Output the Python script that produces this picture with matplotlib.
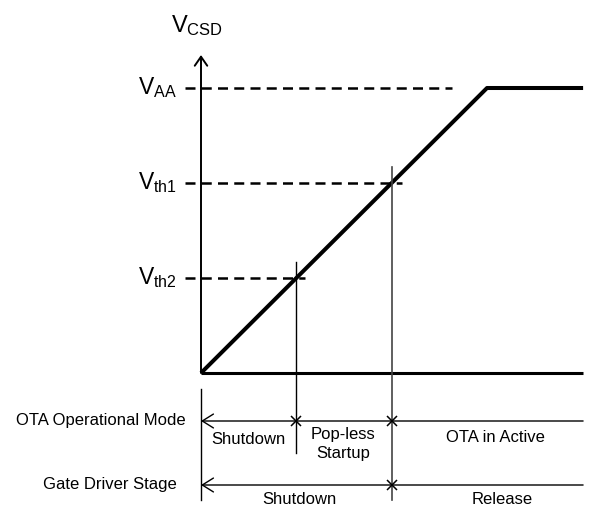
import numpy as np
import matplotlib.pyplot as plt

plt.rcParams['font.family'] = ['Liberation Sans', 'DejaVu Sans']
plt.rcParams['mathtext.fontset'] = 'custom'
plt.rcParams['mathtext.rm'] = 'Liberation Sans'
plt.rcParams['mathtext.it'] = 'Liberation Sans'

# voltage levels (normalised to V_AA) and the times the ramp crosses them
level_names = ['AA', 'th1', 'th2']
levels = [1.0, 0.667, 0.333]
dash_end = [0.878, 0.703, 0.364]
t_th2, t_th1, t_full, t_stop = 0.333, 0.667, 1.0, 1.336
ramp_t = [0.0, t_full, t_stop]
ramp_v = [0.0, 1.0, 1.0]

row_names = ['OTA Operational Mode', 'Gate Driver Stage']
row1_marks = [t_th2, t_th1]
row2_marks = [t_th1]

# pixel -> data helpers (layout only)
def X(px):
    return (px - 201) / 286.0

def Y(py):
    return (373 - py) / 285.0

fig = plt.figure(figsize=(6, 5.2), dpi=100)
ax = fig.add_axes([0, 0, 1, 1])
ax.set_xlim(X(0), X(600))
ax.set_ylim(Y(520), Y(0))
ax.axis('off')

# axes
ax.plot([0, t_stop], [0, 0], color='black', lw=2.2, solid_capstyle='butt')
ax.annotate('', xy=(0, Y(55)), xytext=(0, 0),
            arrowprops=dict(arrowstyle='->,head_length=0.65,head_width=0.45',
                            lw=1.4, color='black', shrinkA=0, shrinkB=0,
                            mutation_scale=10))

# ramp
ax.plot(ramp_t, ramp_v, color='black', lw=2.9, solid_capstyle='butt')

# dashed levels and labels
for name, v, te in zip(level_names, levels, dash_end):
    ln, = ax.plot([X(185), te], [v, v], color='black', lw=1.8)
    ln.set_dashes((4, 2.5))
    ax.text(X(177), v - 6.5 / 285.0, r'$\mathrm{V_{%s}}$' % name, fontsize=16.5,
            ha='right', va='baseline')

ax.text(X(171), Y(32), r'$\mathrm{V_{CSD}}$', fontsize=17, ha='left', va='baseline')

# vertical markers
ax.plot([t_th2, t_th2], [Y(262), Y(453)], color='black', lw=1.0)
ax.plot([t_th1, t_th1], [Y(167), Y(500)], color='#444444', lw=1.2)
ax.plot([0, 0], [Y(389), Y(500)], color='black', lw=1.0)

# rows
rows_y = [Y(421), Y(485)]
for ry, marks in zip(rows_y, [row1_marks, row2_marks]):
    ax.annotate('', xy=(0, ry), xytext=(t_stop, ry),
                arrowprops=dict(arrowstyle='->,head_length=0.8,head_width=0.5',
                                lw=1.0, color='black', shrinkA=0, shrinkB=0,
                                mutation_scale=10))
    ax.plot(marks, [ry] * len(marks), 'x', color='black', ms=7.5, mew=1.1)

for name, ry, px in zip(row_names, rows_y, [186, 177]):
    ax.text(X(px), ry + 1 / 285.0, name, fontsize=12, ha='right', va='center')

fs = 12
ax.text(X(248), Y(440), 'Shutdown', fontsize=fs, ha='center', va='center')
ax.text(X(343), Y(444), 'Pop-less\nStartup', fontsize=fs, ha='center', va='center',
        linespacing=1.3)
ax.text(X(495), Y(437), 'OTA in Active', fontsize=fs, ha='center', va='center')
ax.text(X(299), Y(500), 'Shutdown', fontsize=fs, ha='center', va='center')
ax.text(X(502), Y(500), 'Release', fontsize=fs, ha='center', va='center')

fig.savefig('out.png', dpi=100)
